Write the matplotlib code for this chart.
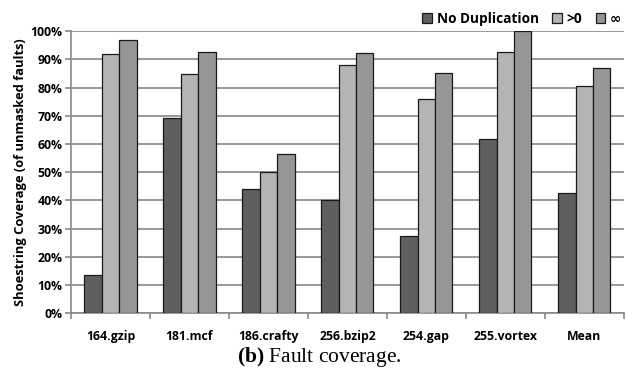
import matplotlib.pyplot as plt
import numpy as np
from matplotlib.ticker import MultipleLocator, PercentFormatter

benchmarks = ["164.gzip", "181.mcf", "186.crafty", "256.bzip2", "254.gap", "255.vortex", "Mean"]
no_duplication = [13.6, 69.3, 43.9, 40.0, 27.3, 61.6, 42.6]
dup_positive = [91.7, 84.7, 50.0, 88.0, 75.8, 92.5, 80.4]
dup_infinite = [96.9, 92.5, 56.3, 92.1, 85.0, 100.0, 87.0]

series = [
    ("No Duplication", no_duplication, "#5f5f5f"),
    (">0", dup_positive, "#b4b4b4"),
    ("\u221e", dup_infinite, "#969696"),
]

plt.rcParams["font.family"] = ["Open Sans", "DejaVu Sans"]
plt.rcParams["mathtext.fontset"] = "custom"
plt.rcParams["mathtext.rm"] = "Liberation Serif"
plt.rcParams["mathtext.bf"] = "Liberation Serif:bold"

fig = plt.figure(figsize=(6.26, 3.74), dpi=100)
ax = fig.add_axes([0.1135, 0.162, 0.883, 0.755])

x = np.arange(len(benchmarks))
width = 0.22
for i, (label, values, color) in enumerate(series):
    ax.bar(x + (i - 1) * width, values, width, color=color, edgecolor="#1a1a1a",
           linewidth=0.9, label=label, zorder=3)

ax.set_xlim(-0.5, len(benchmarks) - 0.5)
ax.set_ylim(0, 100)
ax.yaxis.set_major_locator(MultipleLocator(10))
ax.yaxis.set_major_formatter(PercentFormatter(decimals=0))
ax.grid(axis="y", color="#888888", linewidth=1.2, zorder=0)

# category labels sit between the tick marks at the group boundaries
ax.set_xticks(np.arange(len(benchmarks) + 1) - 0.5)
ax.set_xticklabels([])
ax.set_xticks(x, minor=True)
ax.set_xticklabels(benchmarks, minor=True, fontsize=8.8, fontweight="bold")
ax.tick_params(axis="x", which="major", length=4, color="#888888", width=1.2)
ax.tick_params(axis="x", which="minor", length=0, pad=12)
ax.tick_params(axis="y", length=4, color="#888888", width=1.2, labelsize=8.8, pad=2)
for lab in ax.get_yticklabels():
    lab.set_fontweight("bold")

for side in ("top", "right"):
    ax.spines[side].set_visible(False)
for side in ("left", "bottom"):
    ax.spines[side].set_color("#888888")
    ax.spines[side].set_linewidth(1.2)

ax.set_ylabel("Shoestring Coverage (of unmasked faults)", fontsize=9.3,
              fontweight="bold", labelpad=3)

leg = ax.legend(loc="lower right", bbox_to_anchor=(1.008, 0.995), ncol=3, frameon=False,
                prop={"size": 9.8, "weight": "bold"}, handlelength=0.7, handleheight=0.7,
                handletextpad=0.35, columnspacing=1.0, borderaxespad=0.1)
# Open Sans draws a very small infinity sign
leg.get_texts()[2].set_fontfamily("DejaVu Sans")

fig.text(0.51, 0.045, r"$\mathbf{(b)}$ Fault coverage.", ha="center", va="center",
         fontsize=15.5, family="Liberation Serif")

fig.savefig("out.png", dpi=100)
